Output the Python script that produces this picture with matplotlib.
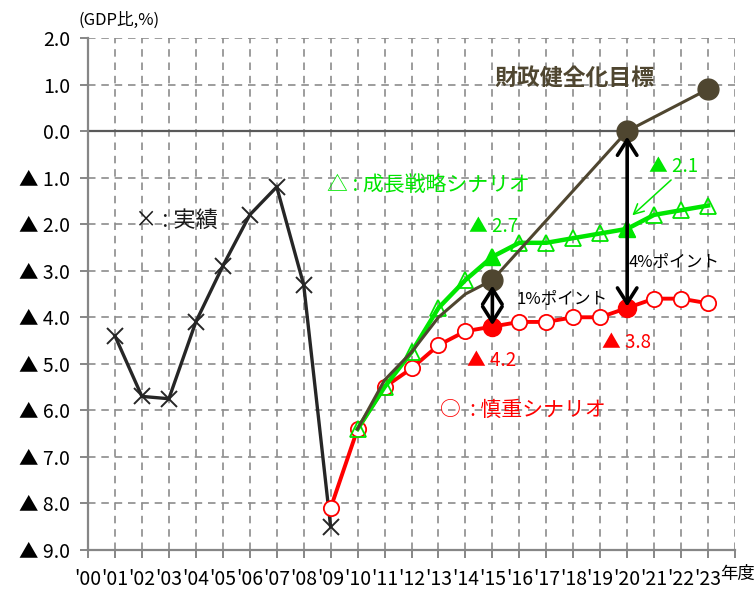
import matplotlib
matplotlib.use("Agg")
import matplotlib.pyplot as plt
import numpy as np

plt.rcParams['font.family'] = ['Noto Sans CJK JP', 'DejaVu Sans']

# ---- data ----
years_labels = ["'00", "'01", "'02", "'03", "'04", "'05", "'06", "'07", "'08", "'09", "'10", "'11",
                "'12", "'13", "'14", "'15", "'16", "'17", "'18", "'19", "'20", "'21", "'22", "'23"]

actual_years = [1, 2, 3, 4, 5, 6, 7, 8, 9]
actual_vals = [-4.4, -5.7, -5.75, -4.1, -2.9, -1.8, -1.2, -3.3, -8.5]

prudent_years = [9, 10, 11, 12, 13, 14, 15, 16, 17, 18, 19, 20, 21, 22, 23]
prudent_vals = [-8.1, -6.4, -5.5, -5.1, -4.6, -4.3, -4.2, -4.1, -4.1, -4.0, -4.0, -3.8, -3.6, -3.6, -3.7]

growth_years = [10, 11, 12, 13, 14, 15, 16, 17, 18, 19, 20, 21, 22, 23]
growth_vals = [-6.4, -5.5, -4.75, -3.8, -3.2, -2.7, -2.4, -2.4, -2.3, -2.2, -2.1, -1.8, -1.7, -1.6]

target_years = [10, 11, 12, 13, 14, 15, 20, 23]
target_vals = [-6.4, -5.35, -4.75, -4.0, -3.5, -3.2, 0.0, 0.9]
target_marker_years = [15, 20, 23]

highlight_years = [15, 20]

ytick_vals = [2, 1, 0, -1, -2, -3, -4, -5, -6, -7, -8, -9]
ytick_labels = ["2.0", "1.0", "0.0", "▲ 1.0", "▲ 2.0", "▲ 3.0", "▲ 4.0", "▲ 5.0",
                "▲ 6.0", "▲ 7.0", "▲ 8.0", "▲ 9.0"]

C_BLACK = '#262626'
C_RED = '#ff0000'
C_GREEN = '#00e600'
C_OLIVE = '#4f4630'
C_GRID = '#8c8c8c'

fig = plt.figure(figsize=(7.56, 5.94), dpi=100)
ax = fig.add_axes([88/756, 1-550/594, (735-88)/756, (550-38)/594])

ax.set_xlim(0, 24)
ax.set_ylim(-9, 2)

# grid
for x in range(1, 25):
    ax.axvline(x, color=C_GRID, lw=1.2, ls=(0, (4.5, 3.5)), zorder=0)
for y in ytick_vals:
    if y == 0:
        ax.axhline(0, color='#595959', lw=1.6, zorder=1)
    elif y != -9:
        ax.axhline(y, color=C_GRID, lw=1.2, ls=(0, (4.5, 3.5)), zorder=0)

for s in ['top', 'right']:
    ax.spines[s].set_visible(False)
for s in ['left', 'bottom']:
    ax.spines[s].set_color('#868686')
    ax.spines[s].set_linewidth(1.6)

ax.set_xticks(range(0, 25))
ax.set_xticklabels(years_labels + [''])
ax.set_yticks(ytick_vals)
ax.set_yticklabels(ytick_labels)
ax.tick_params(axis='both', colors='#868686', length=6, width=1.4, labelcolor='black')
ax.tick_params(axis='x', pad=8, labelsize=14)
ax.tick_params(axis='y', pad=7, labelsize=14)

# actual
ax.plot(actual_years, actual_vals, color=C_BLACK, lw=2.4, marker='x', ms=11, mew=1.4, zorder=3)

# prudent
ax.plot(prudent_years, prudent_vals, color=C_RED, lw=2.8, marker='o', ms=11,
        mfc='white', mec=C_RED, mew=1.3, zorder=4)
hp = [prudent_vals[prudent_years.index(y)] for y in highlight_years]
ax.plot(highlight_years, hp, ls='none', marker='o', ms=13, mfc=C_RED, mec=C_RED, zorder=5)

# growth
ax.plot(growth_years, growth_vals, color=C_GREEN, lw=3.2, marker='^', ms=12,
        mfc='none', mec=C_GREEN, mew=1.3, zorder=5)
hg = [growth_vals[growth_years.index(y)] for y in highlight_years]
ax.plot(highlight_years, hg, ls='none', marker='^', ms=12, mfc=C_GREEN, mec=C_GREEN, zorder=6)

# target
ax.plot(target_years, target_vals, color=C_OLIVE, lw=2.2, zorder=6)
tm = [target_vals[target_years.index(y)] for y in target_marker_years]
ax.plot(target_marker_years, tm, ls='none', marker='o', ms=15, mfc=C_OLIVE, mec=C_OLIVE, zorder=7)

# double arrows
for yr in highlight_years:
    top = target_vals[target_years.index(yr)]
    bot = prudent_vals[prudent_years.index(yr)]
    ax.annotate('', xy=(yr, bot), xytext=(yr, top),
                arrowprops=dict(arrowstyle='<->,head_length=0.55,head_width=0.35', lw=2.6,
                                color='black', mutation_scale=20, shrinkA=4, shrinkB=1),
                zorder=8)

# texts
ax.text(1.74, -1.91, '× : 実績', fontsize=16, color='#1a1a1a', ha='left', va='center', zorder=9)
ax.text(8.85, -1.16, '△ : 成長戦略シナリオ', fontsize=15, color=C_GREEN, ha='left', va='center', zorder=9)
ax.text(18.04, 1.14, '財政健全化目標', fontsize=16.5, fontweight='bold', color=C_OLIVE,
        ha='center', va='center', zorder=9)
ax.text(14.15, -2.06, '▲ 2.7', fontsize=13.5, color=C_GREEN, ha='left', va='center', zorder=9)
ax.text(20.8, -0.77, '▲ 2.1', fontsize=13.5, color=C_GREEN, ha='left', va='center', zorder=9)
ax.annotate('', xy=(20.19, -1.81), xytext=(21.63, -1.05),
            arrowprops=dict(arrowstyle='->', lw=1.1, color=C_GREEN, mutation_scale=18,
                            shrinkA=0, shrinkB=0), zorder=9)
ax.text(20.07, -2.82, '4%ポイント', fontsize=12, color='black', ha='left', va='center', zorder=9)
ax.text(15.9, -3.61, '1%ポイント', fontsize=12, color='black', ha='left', va='center', zorder=9)
ax.text(14.07, -4.92, '▲ 4.2', fontsize=13.5, color=C_RED, ha='left', va='center', zorder=9)
ax.text(19.07, -4.54, '▲ 3.8', fontsize=13.5, color=C_RED, ha='left', va='center', zorder=9)
ax.text(13.04, -6.0, '○  : 慎重シナリオ', fontsize=15, color=C_RED, ha='left', va='center', zorder=9)

fig.text(78/756, 1-20/594, '(GDP比,%)', fontsize=12, ha='left', va='center')
fig.text(720/756, 1-574/594, '年度', fontsize=12.5, ha='left', va='center')

fig.savefig('out.png', dpi=100)
